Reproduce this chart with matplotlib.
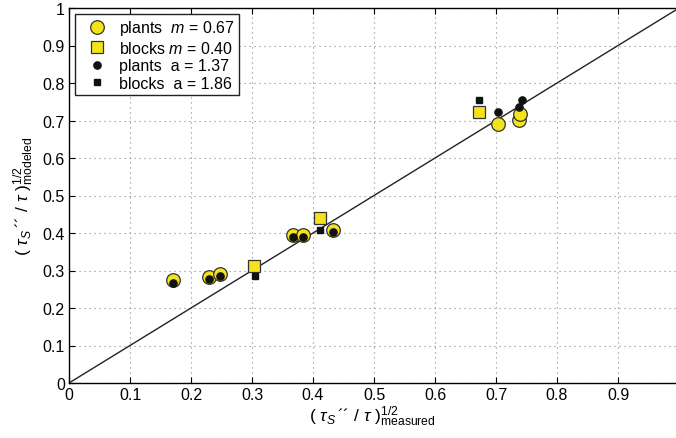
import matplotlib
matplotlib.use("Agg")
import matplotlib.pyplot as plt
from matplotlib.lines import Line2D

plt.rcParams['font.family'] = ['Liberation Sans', 'DejaVu Sans']
plt.rcParams['mathtext.fontset'] = 'custom'
plt.rcParams['mathtext.rm'] = 'Liberation Sans'
plt.rcParams['mathtext.it'] = 'Liberation Sans:italic'
plt.rcParams['mathtext.sf'] = 'Liberation Sans'

# data
plants_m_x = [0.171, 0.2295, 0.2475, 0.367, 0.383, 0.433, 0.703, 0.738, 0.740]
plants_m_y = [0.275, 0.283, 0.290, 0.395, 0.395, 0.409, 0.692, 0.702, 0.717]
blocks_m_x = [0.303, 0.411, 0.672]
blocks_m_y = [0.313, 0.439, 0.722]
plants_a_x = [0.171, 0.2295, 0.2475, 0.367, 0.383, 0.433, 0.703, 0.737, 0.742]
plants_a_y = [0.268, 0.277, 0.285, 0.389, 0.389, 0.404, 0.724, 0.735, 0.755]
blocks_a_x = [0.305, 0.411, 0.672]
blocks_a_y = [0.286, 0.407, 0.754]

xticks = [0, 0.1, 0.2, 0.3, 0.4, 0.5, 0.6, 0.7, 0.8, 0.9]
yticks = [0, 0.1, 0.2, 0.3, 0.4, 0.5, 0.6, 0.7, 0.8, 0.9, 1.0]
xtick_labels = ['0', '0.1', '0.2', '0.3', '0.4', '0.5', '0.6', '0.7', '0.8', '0.9']
ytick_labels = ['0', '0.1', '0.2', '0.3', '0.4', '0.5', '0.6', '0.7', '0.8', '0.9', '1']

yellow = '#f4e21a'

fig = plt.figure(figsize=(6.76, 4.39), dpi=100)
ax = fig.add_axes([69/676, 55/439, 1 - 69/676, 375/439])

ax.plot([0, 1], [0, 1], color='#222222', lw=1.0, zorder=2)

ax.plot(plants_m_x, plants_m_y, 'o', ms=9.8, mfc=yellow, mec='#333333', mew=0.9, ls='none', zorder=3)
ax.plot(blocks_m_x, blocks_m_y, 's', ms=8.8, mfc=yellow, mec='#333333', mew=0.9, ls='none', zorder=3)
ax.plot(plants_a_x, plants_a_y, 'o', ms=5.2, mfc='#111111', mec='#111111', ls='none', zorder=4)
ax.plot(blocks_a_x, blocks_a_y, 's', ms=4.3, mfc='#111111', mec='#111111', ls='none', zorder=4)

ax.set_xlim(0, 0.995)
ax.set_ylim(0, 1.0)
ax.set_xticks(xticks)
ax.set_xticklabels(xtick_labels)
ax.set_yticks(yticks)
ax.set_yticklabels(ytick_labels)
ax.tick_params(direction='in', top=True, right=False, labelsize=11.5, length=4, width=0.8, pad=3)
ax.spines['right'].set_visible(False)
for s in ['left', 'bottom', 'top']:
    ax.spines[s].set_linewidth(1.0)

ax.grid(True, color='#888888', linestyle=(0, (1, 3.5)), linewidth=0.8)
ax.set_axisbelow(True)

ax.set_xlabel(r'$(\ \tau_{\mathit{S}}\,\mathrm{´´}\ /\ \tau\ )^{1/2}_{\mathrm{measured}}$', fontsize=12.5, labelpad=1)
ax.set_ylabel(r'$(\ \tau_{\mathit{S}}\,\mathrm{´´}\ /\ \tau\ )^{1/2}_{\mathrm{modeled}}$', fontsize=12.5, labelpad=5)

handles = [
    Line2D([], [], marker='o', ms=9.8, mfc=yellow, mec='#333333', mew=0.9, ls='none'),
    Line2D([], [], marker='s', ms=8.8, mfc=yellow, mec='#333333', mew=0.9, ls='none'),
    Line2D([], [], marker='o', ms=5.2, mfc='#111111', mec='#111111', ls='none'),
    Line2D([], [], marker='s', ms=4.3, mfc='#111111', mec='#111111', ls='none'),
]
labels = [r'plants  $m$ = 0.67', r'blocks $m$ = 0.40', 'plants  a = 1.37', 'blocks  a = 1.86']
leg = ax.legend(handles, labels, loc='upper left', bbox_to_anchor=(0.0, 1.0), fontsize=11.5,
                frameon=True, fancybox=False, edgecolor='#222222', framealpha=1,
                borderpad=0.3, labelspacing=0.15, handletextpad=0.25, handlelength=2.2,
                borderaxespad=0.35)
leg.get_frame().set_linewidth(1.0)

fig.savefig('out.png', dpi=100)
